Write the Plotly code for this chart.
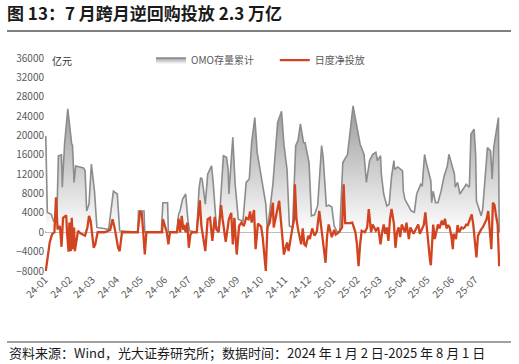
import plotly.graph_objects as go

title_text = "图 13：7 月跨月逆回购投放 2.3 万亿"
source_text = "资料来源：Wind，光大证券研究所；数据时间：2024 年 1 月 2 日-2025 年 8 月 1 日"
unit_text = "亿元"
omo_name = "OMO存量累计"
net_name = "日度净投放"

omo_dates = [
    "2024-01-02", "2024-01-04", "2024-01-09", "2024-01-12", "2024-01-16", "2024-01-18",
    "2024-01-22", "2024-01-23", "2024-01-26", "2024-01-30", "2024-02-04", "2024-02-05",
    "2024-02-07", "2024-02-09", "2024-02-19", "2024-02-21", "2024-02-23", "2024-02-26",
    "2024-02-29", "2024-03-04", "2024-03-07", "2024-03-22", "2024-03-28", "2024-04-01",
    "2024-04-02", "2024-04-05", "2024-04-28", "2024-04-29", "2024-05-06", "2024-05-07",
    "2024-05-28", "2024-05-30", "2024-06-05", "2024-06-06", "2024-06-17", "2024-06-19",
    "2024-06-21", "2024-06-24", "2024-06-26", "2024-06-28", "2024-07-01", "2024-07-03",
    "2024-07-12", "2024-07-15", "2024-07-17", "2024-07-19", "2024-07-23", "2024-07-26",
    "2024-07-31", "2024-08-02", "2024-08-06", "2024-08-09", "2024-08-15", "2024-08-19",
    "2024-08-21", "2024-08-22", "2024-08-27", "2024-08-30", "2024-09-03", "2024-09-09",
    "2024-09-13", "2024-09-17", "2024-09-20", "2024-09-24", "2024-09-27", "2024-09-30",
    "2024-10-08", "2024-10-10", "2024-10-17", "2024-10-23", "2024-10-28", "2024-10-31",
    "2024-11-04", "2024-11-07", "2024-11-11", "2024-11-15", "2024-11-18", "2024-11-21",
    "2024-11-25", "2024-11-27", "2024-12-02", "2024-12-05", "2024-12-09", "2024-12-13",
    "2024-12-18", "2024-12-20", "2024-12-24", "2024-12-27", "2024-12-31", "2025-01-03",
    "2025-01-07", "2025-01-10", "2025-01-14", "2025-01-20", "2025-01-27", "2025-02-05",
    "2025-02-10", "2025-02-13", "2025-02-17", "2025-02-21", "2025-02-25", "2025-02-27",
    "2025-03-03", "2025-03-04", "2025-03-07", "2025-03-11", "2025-03-14", "2025-03-17",
    "2025-03-20", "2025-03-21", "2025-03-25", "2025-03-31", "2025-04-01", "2025-04-03",
    "2025-04-08", "2025-04-11", "2025-04-15", "2025-04-18", "2025-04-23", "2025-04-25",
    "2025-04-28", "2025-04-30", "2025-05-06", "2025-05-07", "2025-05-09", "2025-05-12",
    "2025-05-15", "2025-05-19", "2025-05-23", "2025-05-27", "2025-05-29", "2025-06-03",
    "2025-06-05", "2025-06-06", "2025-06-09", "2025-06-12", "2025-06-16", "2025-06-20",
    "2025-06-24", "2025-06-26", "2025-06-30", "2025-07-02", "2025-07-03", "2025-07-07",
    "2025-07-09", "2025-07-11", "2025-07-15", "2025-07-17", "2025-07-21", "2025-07-23",
    "2025-07-25", "2025-07-29", "2025-07-31", "2025-08-01",
]
omo_values = [
    19900, 4100, 3700, 2300, 2300, 15800,
    16000, 9300, 18500, 25500, 18200, 18000,
    10300, 13700, 13300, 12700, 4400, 5800,
    14100, 8500, 1000, 600, 8500, 8000,
    7900, 300, 0, 4400, 4400, 0,
    0, 6100, 6100, 0, 0, 3700,
    4500, 6800, 7500, 7900, 2300, 300,
    0, 9000, 11300, 11000, 5800, 12000,
    13700, 10300, 1300, 300, 15800, 15500,
    13000, 7900, 19600, 9900, 2700, 2300,
    10300, 11000, 18600, 23700, 16500, 13400,
    5800, 300, 9900, 22700, 25000, 18200,
    13000, 1300, 1000, 17900, 19000, 22400,
    18500, 18500, 14400, 3400, 3600, 5500,
    17900, 15500, 5400, 5600, 5200, 1300,
    0, 0, 14400, 16100, 26100, 18200,
    16100, 10300, 14800, 16100, 16500, 14800,
    15800, 12000, 7900, 5400, 5800, 11500,
    14800, 13000, 13500, 12700, 8500, 6800,
    5100, 4400, 4100, 7900, 9900, 9500,
    16100, 14500, 10600, 6100, 8500, 6100,
    6100, 8500, 11700, 13700, 16100, 12700,
    12000, 9300, 10300, 7900, 8900, 9900,
    9300, 20300, 21300, 16100, 6500, 4400,
    3400, 4800, 12700, 17500, 16800, 11000,
    17500, 22400, 23700, 0,
]

net_dates = [
    "2024-01-02", "2024-01-04", "2024-01-05", "2024-01-07", "2024-01-10", "2024-01-13",
    "2024-01-15", "2024-01-17", "2024-01-20", "2024-01-22", "2024-01-24", "2024-01-28",
    "2024-01-29", "2024-01-31", "2024-02-01", "2024-02-03", "2024-02-04", "2024-02-06",
    "2024-02-07", "2024-02-08", "2024-02-10", "2024-02-12", "2024-02-15", "2024-02-17",
    "2024-02-21", "2024-02-24", "2024-02-26", "2024-02-28", "2024-03-02", "2024-03-03",
    "2024-03-05", "2024-03-08", "2024-03-17", "2024-03-24", "2024-03-27", "2024-03-30",
    "2024-04-03", "2024-04-05", "2024-04-08", "2024-04-28", "2024-05-01", "2024-05-03",
    "2024-05-05", "2024-05-07", "2024-05-09", "2024-05-29", "2024-05-30", "2024-06-02",
    "2024-06-04", "2024-06-06", "2024-06-08", "2024-06-17", "2024-06-19", "2024-06-21",
    "2024-06-23", "2024-06-25", "2024-06-26", "2024-06-28", "2024-06-30", "2024-07-02",
    "2024-07-04", "2024-07-06", "2024-07-12", "2024-07-16", "2024-07-18", "2024-07-23",
    "2024-07-26", "2024-07-29", "2024-08-01", "2024-08-04", "2024-08-06", "2024-08-09",
    "2024-08-12", "2024-08-14", "2024-08-18", "2024-08-22", "2024-08-25", "2024-08-27",
    "2024-08-29", "2024-09-01", "2024-09-04", "2024-09-07", "2024-09-10", "2024-09-13",
    "2024-09-16", "2024-09-18", "2024-09-20", "2024-09-23", "2024-09-25", "2024-09-28",
    "2024-10-02", "2024-10-04", "2024-10-06", "2024-10-08", "2024-10-10", "2024-10-13",
    "2024-10-17", "2024-10-18", "2024-10-25", "2024-10-29", "2024-10-31", "2024-11-04",
    "2024-11-06", "2024-11-11", "2024-11-13", "2024-11-14", "2024-11-16", "2024-11-18",
    "2024-11-22", "2024-11-24", "2024-11-26", "2024-11-28", "2024-12-01", "2024-12-03",
    "2024-12-06", "2024-12-09", "2024-12-12", "2024-12-15", "2024-12-17", "2024-12-19",
    "2024-12-21", "2024-12-23", "2024-12-25", "2024-12-27", "2024-12-29", "2024-12-31",
    "2025-01-03", "2025-01-05", "2025-01-09", "2025-01-13", "2025-01-15", "2025-01-17",
    "2025-01-23", "2025-01-26", "2025-01-28", "2025-01-30", "2025-02-01", "2025-02-03",
    "2025-02-05", "2025-02-07", "2025-02-11", "2025-02-14", "2025-02-16", "2025-02-19",
    "2025-02-21", "2025-02-23", "2025-02-25", "2025-02-28", "2025-03-03", "2025-03-05",
    "2025-03-07", "2025-03-09", "2025-03-11", "2025-03-13", "2025-03-15", "2025-03-17",
    "2025-03-20", "2025-03-22", "2025-03-24", "2025-03-26", "2025-03-28", "2025-03-30",
    "2025-04-01", "2025-04-03", "2025-04-05", "2025-04-08", "2025-04-10", "2025-04-12",
    "2025-04-14", "2025-04-18", "2025-04-20", "2025-04-22", "2025-04-25", "2025-04-27",
    "2025-04-29", "2025-05-01", "2025-05-03", "2025-05-05", "2025-05-06", "2025-05-08",
    "2025-05-09", "2025-05-11", "2025-05-13", "2025-05-15", "2025-05-17", "2025-05-20",
    "2025-05-22", "2025-05-24", "2025-05-26", "2025-05-28", "2025-05-30", "2025-06-01",
    "2025-06-03", "2025-06-04", "2025-06-07", "2025-06-09", "2025-06-11", "2025-06-14",
    "2025-06-16", "2025-06-18", "2025-06-20", "2025-06-22", "2025-06-25", "2025-06-27",
    "2025-06-29", "2025-07-01", "2025-07-03", "2025-07-05", "2025-07-07", "2025-07-09",
    "2025-07-11", "2025-07-14", "2025-07-16", "2025-07-18", "2025-07-20", "2025-07-22",
    "2025-07-24", "2025-07-26", "2025-07-28", "2025-07-30", "2025-08-01",
]
net_values = [
    -8000, -5600, -5300, -2100, -400, 0,
    7200, 600, 1300, -3000, 3000, 3500,
    0, -4000, 2000, -3900, 3000, -3500,
    1000, -3900, -1800, 300, -200, -400,
    -700, 1000, 3400, 2400, -1500, -3200,
    -2500, 0, 0, 500, 2700, 600,
    -3200, -3900, 0, 0, 4400, 4100,
    0, -4600, 0, 0, 2700, 1000,
    0, -2500, 0, 0, 2800, 0,
    3400, 500, 1500, 0, 2000, -3200,
    -500, 0, 0, 6600, 1300, -3900,
    2700, 3000, -1800, 3200, 600, 0,
    5600, 2700, -2000, 2700, 4000, -2500,
    3000, -4600, 1300, 2000, 1300, 3000,
    2700, 4300, 2000, 4600, -3500, 1800,
    1200, -1000, -4500, -8000, 1000, 2000,
    6100, 1000, 6500, -1800, -4600, -2100,
    -3900, 1000, 2700, 9900, 2700, 600,
    -2500, 800, -2500, -2800, -700, -1400,
    800, -700, 200, 4400, 1600, -1800,
    -3900, -6300, -700, 1600, 300, -1000,
    500, -500, 0, 1000, 9900, 1900,
    1900, 2000, 1000, 0, -2500, -7000,
    -2500, 300, 0, 1000, 4800, 0,
    1600, 1000, 300, 1000, -2500, 0,
    1600, -300, 1000, -1800, 2700, 4800,
    1800, -3200, 0, 1000, -1000, 1600,
    600, 0, 2000, -1400, 1000, 300,
    -300, 1000, 1600, -300, 800, 1500,
    4100, 300, -2800, -5900, -6800, 1000,
    1600, -1400, 0, 1600, 800, 2400,
    1500, 2800, 800, 1500, 1000, -700,
    -3500, -300, -1400, 1500, 0, 1000,
    800, 1000, 1600, 1500, 2800, 3700,
    1600, -2100, -5200, -700, 0, 600,
    1000, 2000, 2700, 4400, 0, -3500,
    6100, 5600, 3400, 1600, -7000,
]

tick_dates = [
    "2024-01-01", "2024-02-01", "2024-03-01", "2024-04-01", "2024-05-01", "2024-06-01",
    "2024-07-01", "2024-08-01", "2024-09-01", "2024-10-01", "2024-11-01", "2024-12-01",
    "2025-01-01", "2025-02-01", "2025-03-01", "2025-04-01", "2025-05-01", "2025-06-01",
    "2025-07-01",
]
tick_labels = [
    "24-01", "24-02", "24-03", "24-04", "24-05", "24-06", "24-07", "24-08", "24-09",
    "24-10", "24-11", "24-12", "25-01", "25-02", "25-03", "25-04", "25-05", "25-06", "25-07",
]
y_ticks = [-8000, -4000, 0, 4000, 8000, 12000, 16000, 20000, 24000, 28000, 32000, 36000]

FONT = "Noto Sans CJK SC, Noto Sans, sans-serif"
GRAY_TXT = "#595959"

fig = go.Figure()
fig.add_trace(go.Scatter(
    x=omo_dates, y=omo_values, name=omo_name, mode="lines",
    line=dict(color="#8c8c8c", width=1.6),
    fill="tozeroy",
    fillgradient=dict(type="vertical",
                      colorscale=[[0, "rgba(255,255,255,1)"], [1, "#a3a3a3"]],
                      start=0, stop=24000),
    legend="legend",
))
fig.add_trace(go.Scatter(
    x=net_dates, y=net_values, name=net_name, mode="lines",
    line=dict(color="#d2441f", width=2.3),
    legend="legend2",
))

fig.update_layout(
    width=519, height=364,
    margin=dict(l=45, r=19, t=58, b=93),
    paper_bgcolor="white", plot_bgcolor="white",
    font=dict(family=FONT, size=10, color=GRAY_TXT),
    title=dict(text="<b>" + title_text + "</b>", x=0.0135, xanchor="left",
               y=1 - 14 / 364, yanchor="middle",
               font=dict(family=FONT, size=17, color="#1a1a1a")),
    legend=dict(x=0.233, y=0.99, xanchor="left", yanchor="middle",
                bgcolor="rgba(0,0,0,0)", font=dict(size=10, color=GRAY_TXT),
                itemwidth=30),
    legend2=dict(x=0.505, y=0.99, xanchor="left", yanchor="middle",
                 bgcolor="rgba(0,0,0,0)", font=dict(size=10, color=GRAY_TXT),
                 itemwidth=30),
    xaxis=dict(type="date", range=["2024-01-01", "2025-08-02"],
               tickvals=tick_dates, ticktext=tick_labels, tickangle=-45,
               showgrid=False, zeroline=False, showline=False, ticks="",
               tickfont=dict(size=10, color=GRAY_TXT)),
    yaxis=dict(range=[-8000, 36000], tickvals=y_ticks, tickformat="d",
               showgrid=False, zeroline=True, zerolinecolor="#a6a6a6",
               zerolinewidth=1.5, showline=False, ticks="",
               tickfont=dict(size=10, color=GRAY_TXT)),
    showlegend=True,
)

fig.add_annotation(text=unit_text, xref="paper", yref="paper",
                   x=0.01, y=0.99, xanchor="left", yanchor="middle",
                   showarrow=False, font=dict(size=10, color="#333333"))
fig.add_annotation(text=source_text, xref="paper", yref="paper",
                   x=(7 - 45) / 455, y=(271 - 352) / 213, xanchor="left",
                   yanchor="middle", showarrow=False,
                   font=dict(size=13, color="#1a1a1a"))
fig.add_shape(type="line", xref="paper", yref="paper",
              x0=(7 - 45) / 455, x1=(511 - 45) / 455,
              y0=(271 - 31) / 213, y1=(271 - 31) / 213,
              line=dict(color="#808080", width=2))
fig.add_shape(type="line", xref="paper", yref="paper",
              x0=(7 - 45) / 455, x1=(511 - 45) / 455,
              y0=(271 - 342) / 213, y1=(271 - 342) / 213,
              line=dict(color="#404040", width=1))

fig.write_html("out.html", config={"displayModeBar": False},
               post_script="document.body.style.margin='0';")
